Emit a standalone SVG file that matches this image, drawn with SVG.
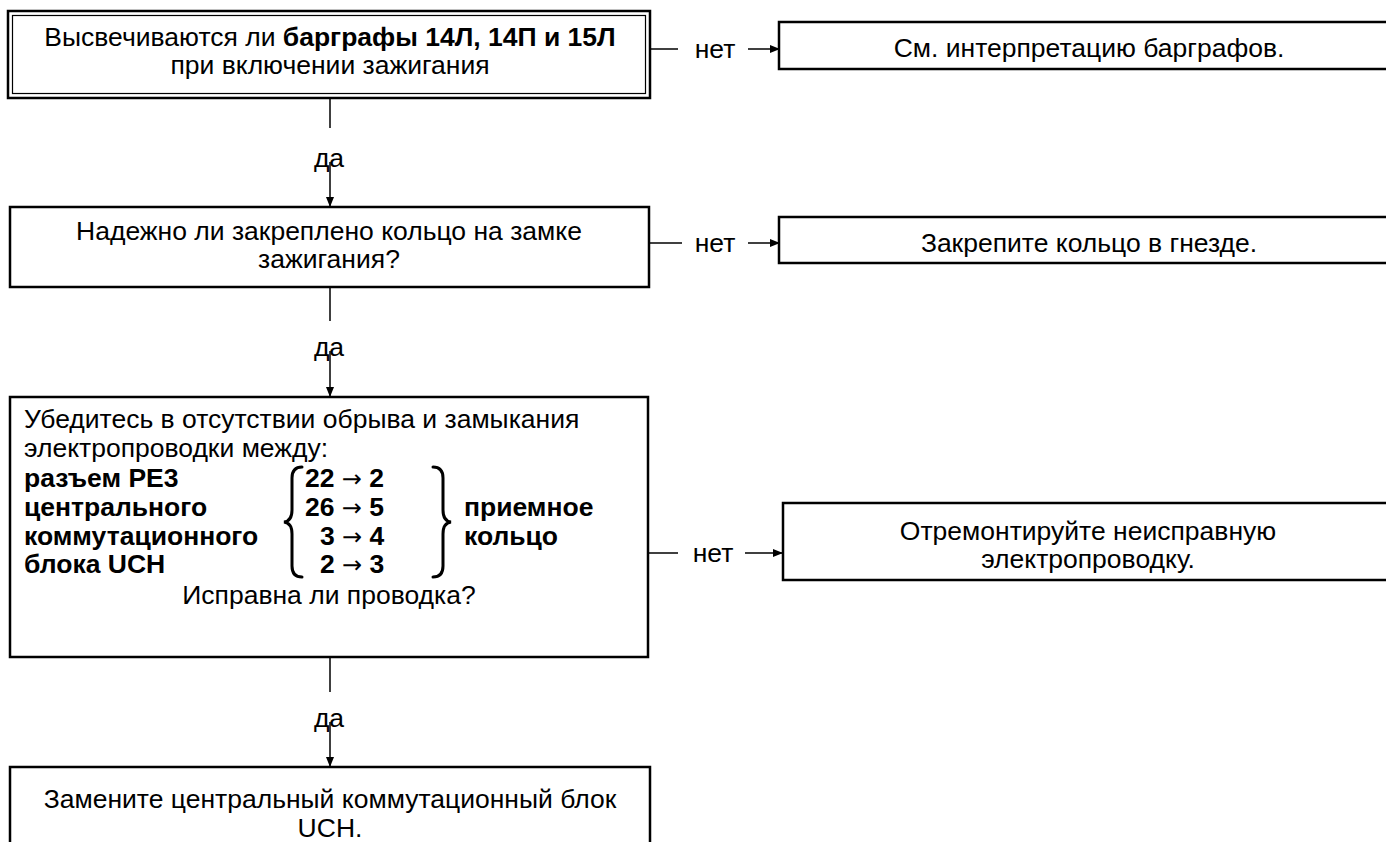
<svg xmlns="http://www.w3.org/2000/svg" width="1386" height="842" viewBox="0 0 1386 842">
  <style>
    .box { fill: #fff; stroke: #000; stroke-width: 2.5; }
    .thin { fill: none; stroke: #000; stroke-width: 1.2; }
    .ln { stroke: #000; stroke-width: 1.5; fill: none; }
    text { font-family: "Liberation Sans", Arial, sans-serif; font-size: 26.5px; fill: #000; }
    .c { text-anchor: middle; }
    .b { font-weight: bold; }
    .arr { font-family: "DejaVu Sans", sans-serif; font-weight: normal; font-size: 24px; }
    .brace { fill: none; stroke: #000; stroke-width: 3; stroke-linecap: round; }
  </style>
  <defs>
    <marker id="ah" viewBox="0 0 10 10" refX="10" refY="5" markerWidth="10" markerHeight="10" markerUnits="userSpaceOnUse" orient="auto">
      <path d="M0,1 L10,5 L0,9 z" fill="#000"/>
    </marker>
  </defs>
  <rect width="1386" height="842" fill="#fff"/>

  <!-- connectors -->
  <g id="connectors">
    <!-- q1 -> q2 (да) -->
    <line class="ln" x1="330" y1="98" x2="330" y2="128"/>
    <text class="c" x="329" y="167">да</text>
    <line class="ln" x1="330" y1="162" x2="330" y2="207" marker-end="url(#ah)"/>
    <!-- q1 -> r1 (нет) -->
    <line class="ln" x1="650" y1="49" x2="678" y2="49"/>
    <text class="c" x="715" y="58">нет</text>
    <line class="ln" x1="748" y1="49" x2="780" y2="49" marker-end="url(#ah)"/>

    <!-- q2 -> q3 (да) -->
    <line class="ln" x1="330" y1="287" x2="330" y2="321"/>
    <text class="c" x="329" y="356">да</text>
    <line class="ln" x1="330" y1="351" x2="330" y2="397" marker-end="url(#ah)"/>
    <!-- q2 -> r2 (нет) -->
    <line class="ln" x1="649" y1="243" x2="682" y2="243"/>
    <text class="c" x="715" y="252">нет</text>
    <line class="ln" x1="748" y1="243" x2="780" y2="243" marker-end="url(#ah)"/>

    <!-- q3 -> a4 (да) -->
    <line class="ln" x1="330" y1="657" x2="330" y2="692"/>
    <text class="c" x="329" y="727">да</text>
    <line class="ln" x1="330" y1="722" x2="330" y2="767" marker-end="url(#ah)"/>
    <!-- q3 -> r3 (нет) -->
    <line class="ln" x1="648" y1="553" x2="678" y2="553"/>
    <text class="c" x="713" y="562">нет</text>
    <line class="ln" x1="745" y1="553" x2="783" y2="553" marker-end="url(#ah)"/>
  </g>

  <!-- question 1: double frame -->
  <g id="q1">
    <rect class="box" x="8" y="11" width="642" height="87"/>
    <rect class="thin" x="12.5" y="15.5" width="633" height="78"/>
    <text class="c" x="330" y="46">Высвечиваются ли <tspan class="b">барграфы 14Л, 14П и 15Л</tspan></text>
    <text class="c" x="330" y="74">при включении зажигания</text>
  </g>

  <g id="r1">
    <rect class="box" x="779" y="22" width="640" height="47"/>
    <text class="c" x="1089" y="57">См. интерпретацию барграфов.</text>
  </g>

  <g id="q2">
    <rect class="box" x="10" y="207" width="639" height="80"/>
    <text class="c" x="329" y="240">Надежно ли закреплено кольцо на замке</text>
    <text class="c" x="329" y="268">зажигания?</text>
  </g>

  <g id="r2">
    <rect class="box" x="779" y="217" width="640" height="46"/>
    <text class="c" x="1089" y="252">Закрепите кольцо в гнезде.</text>
  </g>

  <g id="q3">
    <rect class="box" x="10" y="397" width="638" height="260"/>
    <text x="24" y="428">Убедитесь в отсутствии обрыва и замыкания</text>
    <text x="24" y="457">электропроводки между:</text>
    <text class="b" x="24" y="487">разъем PE3</text>
    <text class="b" x="24" y="516">центрального</text>
    <text class="b" x="24" y="545">коммутационного</text>
    <text class="b" x="24" y="573">блока UCH</text>
    <!-- left brace -->
    <path class="brace" d="M302,467 Q292,467 292,478 L292,510 Q292,521 284,522 Q292,523 292,534 L292,566 Q292,577 302,577"/>
    <text class="b" x="305" y="487">22 <tspan class="arr">→</tspan> 2</text>
    <text class="b" x="305" y="516">26 <tspan class="arr">→</tspan> 5</text>
    <text class="b" x="320" y="545">3 <tspan class="arr">→</tspan> 4</text>
    <text class="b" x="320" y="573">2 <tspan class="arr">→</tspan> 3</text>
    <!-- right brace -->
    <path class="brace" d="M433,467 Q443,467 443,478 L443,510 Q443,521 451,522 Q443,523 443,534 L443,566 Q443,577 433,577"/>
    <text class="b" x="464" y="516">приемное</text>
    <text class="b" x="464" y="545">кольцо</text>
    <text class="c" x="329" y="604">Исправна ли проводка?</text>
  </g>

  <g id="r3">
    <rect class="box" x="783" y="503" width="640" height="77"/>
    <text class="c" x="1088" y="540">Отремонтируйте неисправную</text>
    <text class="c" x="1088" y="568">электропроводку.</text>
  </g>

  <g id="a4">
    <rect class="box" x="10" y="767" width="640" height="90"/>
    <text class="c" x="330" y="808">Замените центральный коммутационный блок</text>
    <text class="c" x="330" y="837">UCH.</text>
  </g>
</svg>
